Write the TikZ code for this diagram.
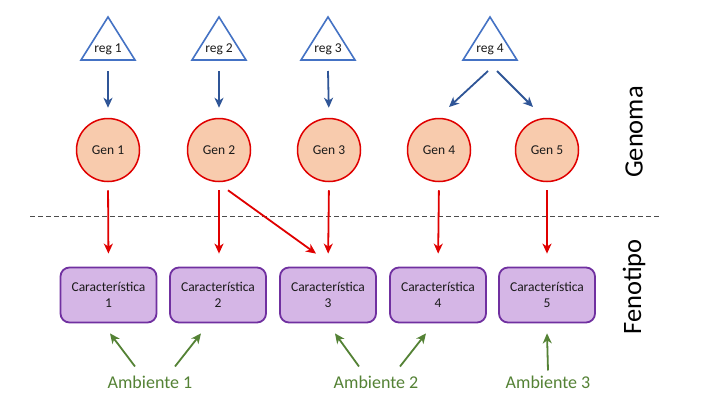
\documentclass[tikz,border=0pt]{standalone}
\usepackage{fontspec}
\setmainfont{Carlito}
\usetikzlibrary{arrows.meta,calc}
\definecolor{triblue}{HTML}{4472C4}
\definecolor{arrblue}{HTML}{2F5597}
\definecolor{genred}{HTML}{E00000}
\definecolor{genfill}{HTML}{F8CBAD}
\definecolor{boxpurple}{HTML}{7030A0}
\definecolor{boxfill}{HTML}{D5B6E6}
\definecolor{envgreen}{HTML}{548235}
\definecolor{txt}{HTML}{1A1A1A}
\tikzset{
  tri/.style={draw=triblue,line width=1.6pt,line join=miter},
  regtext/.style={font=\fontsize{13.5}{15}\selectfont,text=txt,inner sep=0pt},
  gen/.style={circle,draw=genred,fill=genfill,line width=1.5pt,minimum size=63pt,inner sep=0pt,font=\fontsize{13.5}{15}\selectfont,text=txt},
  trait/.style={rounded corners=9pt,draw=boxpurple,fill=boxfill,line width=1.8pt,minimum width=96pt,minimum height=55pt,inner sep=0pt,align=center,font=\fontsize{13.5}{16}\selectfont,text=txt},
  env/.style={text=envgreen,font=\fontsize{18}{20}\selectfont,inner sep=0pt},
  side/.style={font=\fontsize{26.5}{30}\selectfont,rotate=90,inner sep=0pt,text=black},
  tip/.style={-{Stealth[length=10pt,width=9pt,inset=3pt]}},
  barrow/.style={tip,draw=arrblue,line width=1.8pt},
  rarrow/.style={tip,draw=genred,line width=1.8pt},
  garrow/.style={tip,draw=envgreen,line width=1.8pt},
}
\begin{document}
\begin{tikzpicture}[x=1pt,y=-1pt]
\useasboundingbox (0,0) rectangle (720,405);
\fill[white] (0,0) rectangle (720,405);
% regulators
\foreach \n/\x in {1/108,2/219,3/328,4/490}{
  \draw[tri] (\x,17) -- (\x+27,60) -- (\x-27,60) -- cycle;
  \node[regtext] (r\n) at (\x,49) {reg \n};
}
\coordinate (r1b) at (108,71);
\coordinate (r2b) at (219,71);
\coordinate (r3b) at (328,71);
\coordinate (r4l) at (488,71);
\coordinate (r4r) at (497,71);
% genes
\node[gen] (g1) at (108,150) {Gen 1};
\node[gen] (g2) at (219,150) {Gen 2};
\node[gen] (g3) at (329,150) {Gen 3};
\node[gen] (g4) at (439,150) {Gen 4};
\node[gen] (g5) at (547,150) {Gen 5};
% traits
\node[trait] (c1) at (108.5,295) {Característica\\1};
\node[trait] (c2) at (218,295) {Característica\\2};
\node[trait] (c3) at (328,295) {Característica\\3};
\node[trait] (c4) at (438,295) {Característica\\4};
\node[trait] (c5) at (547,295) {Característica\\5};
% environments
\node[env] (a1) at (150,382) {Ambiente 1};
\node[env] (a2) at (376,382) {Ambiente 2};
\node[env] (a3) at (548,382) {Ambiente 3};
% side labels
\node[side] (genoma) at (634,132) {Genoma};
\node[side] (fenotipo) at (634,287) {Fenotipo};
% dashed separator
\coordinate (dl) at (30,216);
\coordinate (dr) at (660,216);
\draw[dashed,dash pattern=on 5pt off 3pt,draw=black!70,line width=0.8pt] (dl) -- (dr);
% blue arrows
\draw[barrow,shorten >=10pt] (r1b) -- (g1.north);
\draw[barrow,shorten >=10pt] (r2b) -- (g2.north);
\draw[barrow,shorten >=10pt] (r3b) -- (g3.north);
\coordinate (g4t) at (449,107);
\coordinate (g5t) at (533,107);
\draw[barrow] (r4l) -- (g4t);
\draw[barrow] (r4r) -- (g5t);
% red arrows
\foreach \i in {1,3,4,5}{
  \draw[rarrow,shorten <=8pt,shorten >=13pt] (g\i.south) -- (c\i.north);
}
\draw[rarrow,shorten <=8pt,shorten >=13pt] (g2.south) -- (g2.south |- c2.north);
\draw[rarrow] ($(g2.south)+(9,8)$) -- ($(c3.north)+(-12,-13)$);
% green arrows
\draw[garrow] ($(a1.north)+(-15,-9)$) -- ($(c1.south)+(1.5,10)$);
\draw[garrow] ($(a1.north)+(25,-9)$) -- ($(c2.south)+(-17,10)$);
\draw[garrow] ($(a2.north)+(-17,-9)$) -- ($(c3.south)+(7,10)$);
\draw[garrow] ($(a2.north)+(24,-9)$) -- ($(c4.south)+(-12,10)$);
\draw[garrow] ($(a3.north)+(0,-5)$) -- ($(c5.south)+(0,10)$);
\end{tikzpicture}
\end{document}
